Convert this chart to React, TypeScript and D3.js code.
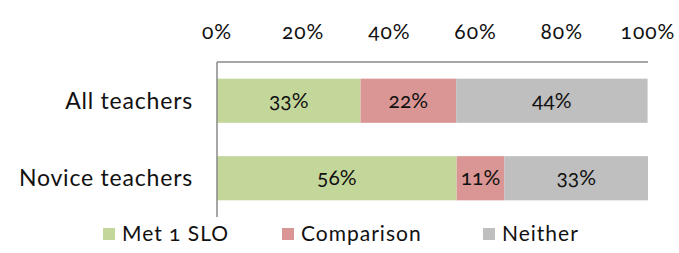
import React from 'react';
import * as d3 from 'd3';

// groups shown on the y axis
const categories = ['All teachers', 'Novice teachers'];
// series, in stacking order
const seriesNames = ['Met 1 SLO', 'Comparison', 'Neither'];
const metSlo = [33.3, 55.6];
const comparison = [22.2, 11.1];
const neither = [44.4, 33.3];
const tickValues = [0, 20, 40, 60, 80, 100];

const colors = ['#c4d79b', '#da9694', '#bfbfbf'];

const W = 679;
const H = 253;
const margin = { top: 62, right: 31, bottom: 36, left: 217 };
const FONT = 'Lato, "Open Sans", sans-serif';

const App = () => {
  const innerW = W - margin.left - margin.right;
  const innerH = H - margin.top - margin.bottom;

  const x = d3.scaleLinear().domain([0, 100]).range([0, innerW]);
  const y = d3.scaleBand().domain(categories).range([0, innerH]).paddingInner(0.43).paddingOuter(0.215);

  const rows = categories.map((c, i) => ({
    cat: c,
    'Met 1 SLO': metSlo[i],
    Comparison: comparison[i],
    Neither: neither[i],
  }));
  const stacked = d3.stack<any>().keys(seriesNames)(rows);

  const legendX = [103, 282, 483];

  return (
    <svg width={W} height={H} style={{ position: 'absolute', left: 0, top: 0, fontFamily: FONT, fontFeatureSettings: '"onum"' }}>
      <g transform={`translate(${margin.left},${margin.top})`}>
        {/* bars */}
        {stacked.map((s, si) => (
          <g key={s.key} fill={colors[si]}>
            {s.map((d, i) => (
              <rect
                key={i}
                x={x(d[0])}
                y={y(categories[i])}
                width={x(d[1]) - x(d[0])}
                height={y.bandwidth()}
              />
            ))}
          </g>
        ))}
        {/* data labels */}
        {stacked.map((s) =>
          s.map((d, i) => (
            <text
              key={s.key + i}
              x={(x(d[0]) + x(d[1])) / 2}
              y={(y(categories[i]) as number) + y.bandwidth() / 2 + 7}
              textAnchor="middle"
              fontSize={21}
              fill="#111"
            >
              {Math.round(d[1] - d[0])}%
            </text>
          ))
        )}
        {/* axes lines */}
        <line x1={0} x2={innerW} y1={0} y2={0} stroke="#888" strokeWidth={1.5} />
        <line x1={0} x2={0} y1={0} y2={innerH} stroke="#888" strokeWidth={1.5} />
        {/* x tick labels on top */}
        {tickValues.map((t) => (
          <text key={t} x={x(t)} y={-23} textAnchor="middle" fontSize={21} letterSpacing={1} fill="#111">
            {t}%
          </text>
        ))}
        {/* category labels */}
        {categories.map((c) => (
          <text
            key={c}
            x={-24}
            y={(y(c) as number) + y.bandwidth() / 2 + 8}
            textAnchor="end"
            fontSize={23}
            letterSpacing={0.8}
            fill="#111"
          >
            {c}
          </text>
        ))}
      </g>
      {/* legend */}
      {seriesNames.map((n, i) => (
        <g key={n}>
          <rect x={legendX[i]} y={228} width={12} height={12} fill={colors[i]} />
          <text x={legendX[i] + 19} y={241} fontSize={21} letterSpacing={1} fill="#111">
            {n}
          </text>
        </g>
      ))}
    </svg>
  );
};

export default App;
